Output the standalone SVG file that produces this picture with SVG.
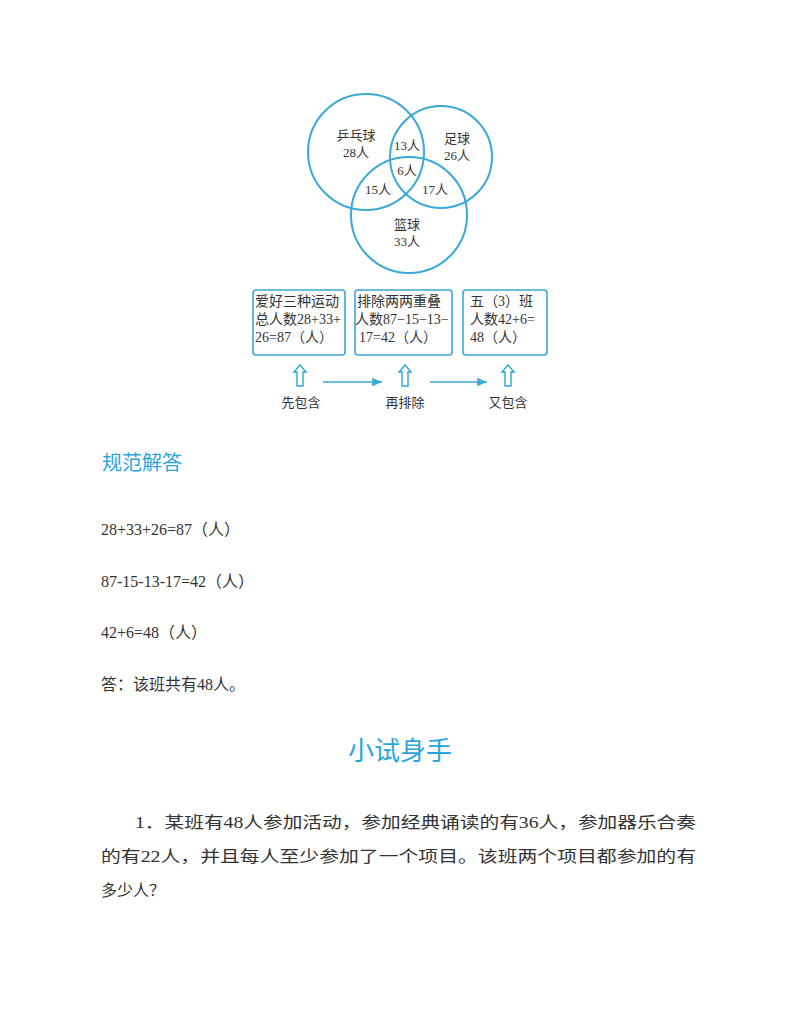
<svg xmlns="http://www.w3.org/2000/svg" width="800" height="1035" viewBox="0 0 800 1035">
<style>
text{font-family:"Liberation Serif","Noto Sans CJK SC",serif;fill:#333}
.s{font-size:13px}
.b{font-size:14px}
.t{font-size:16px}
.h{fill:#2aa5dc;font-family:"Noto Sans CJK SC",sans-serif}
.c{fill:none;stroke:#3aa8d8;stroke-width:2}
.box{fill:#fff;stroke:#3aa8d8;stroke-width:1.6}
.ln{stroke:#3aa8d8;stroke-width:1.4;fill:none}
.ua{fill:#fff;stroke:#2aa5dc;stroke-width:1.4}
</style>
<defs><marker id="ah" markerWidth="8" markerHeight="8" refX="7" refY="3" orient="auto"><path d="M0,0 L7,3 L0,6 Z" fill="#3aa8d8"/></marker></defs>
<rect width="800" height="1035" fill="#fff"/>
<g id="venn">
<circle class="c" cx="366" cy="152" r="58"/>
<circle class="c" cx="441" cy="157" r="51"/>
<circle class="c" cx="409" cy="215" r="58"/>
<g class="s" text-anchor="middle">
<text x="356" y="140">乒乓球</text><text x="356" y="157">28人</text>
<text x="457" y="143">足球</text><text x="457" y="160">26人</text>
<text x="407" y="150">13人</text>
<text x="407" y="175">6人</text>
<text x="378" y="194">15人</text>
<text x="435" y="194">17人</text>
<text x="407" y="229">篮球</text><text x="407" y="246">33人</text>
</g>
</g>
<g id="box1"><rect class="box" x="253" y="290" width="92" height="65" rx="3"/>
<g class="b"><text x="255" y="306">爱好三种运动</text><text x="255" y="324">总人数28+33+</text><text x="255" y="342">26=87（人）</text></g></g>
<g id="box2"><rect class="box" x="355" y="290" width="97" height="65" rx="3"/>
<g class="b"><text x="357" y="306">排除两两重叠</text><text x="355" y="324">人数87−15−13−</text><text x="359" y="342">17=42（人）</text></g></g>
<g id="box3"><rect class="box" x="463" y="290" width="84" height="65" rx="3"/>
<g class="b"><text x="470" y="306">五（3）班</text><text x="470" y="324">人数42+6=</text><text x="470" y="342">48（人）</text></g></g>
<g id="connectors">
<path class="ua" d="M300,365 L306,372 L303,372 L303,386 L297,386 L297,372 L294,372 Z"/>
<path class="ua" d="M405,365 L411,372 L408,372 L408,386 L402,386 L402,372 L399,372 Z"/>
<path class="ua" d="M508,365 L514,372 L511,372 L511,386 L505,386 L505,372 L502,372 Z"/>
<line class="ln" x1="323" y1="382" x2="382" y2="382" marker-end="url(#ah)"/>
<line class="ln" x1="430" y1="382" x2="487" y2="382" marker-end="url(#ah)"/>
</g>
<g class="s" text-anchor="middle"><text x="301" y="407">先包含</text><text x="405" y="407">再排除</text><text x="508" y="407">又包含</text></g>
<text class="h" x="102" y="470" font-size="20">规范解答</text>
<g class="t">
<text x="101" y="535">28+33+26=87（人）</text>
<text x="101" y="587">87-15-13-17=42（人）</text>
<text x="101" y="638">42+6=48（人）</text>
<text x="101" y="690">答：该班共有48人。</text>
</g>
<text class="h" x="400" y="760" font-size="26" text-anchor="middle">小试身手</text>
<g class="t">
<text x="135" y="828" textLength="561" lengthAdjust="spacingAndGlyphs">1．某班有48人参加活动，参加经典诵读的有36人，参加器乐合奏</text>
<text x="101" y="862" textLength="595" lengthAdjust="spacingAndGlyphs">的有22人，并且每人至少参加了一个项目。该班两个项目都参加的有</text>
<text x="101" y="896">多少人？</text>
</g>
</svg>
